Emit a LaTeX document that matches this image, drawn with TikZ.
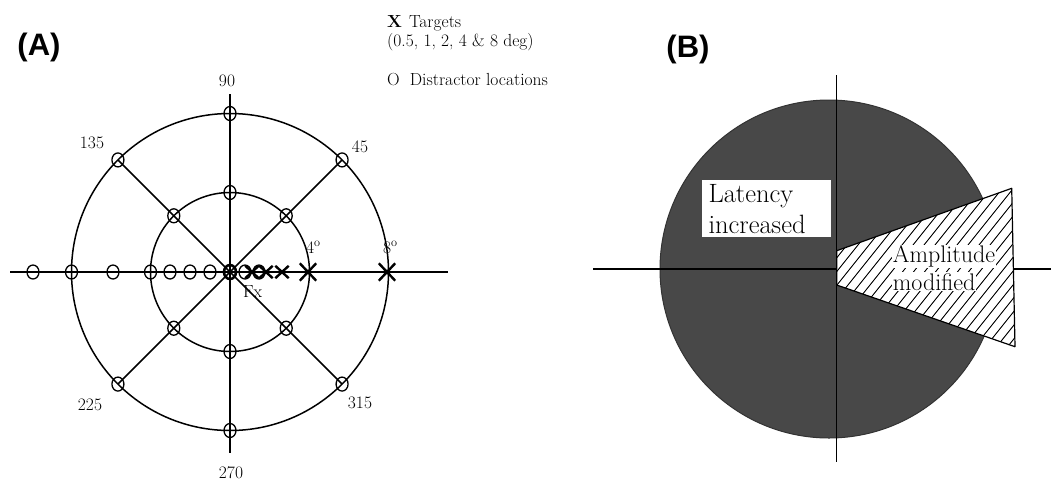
\documentclass[tikz,border=0pt]{standalone}
\usepackage{fontspec}
\newfontfamily\panelfont{Liberation Sans}
\definecolor{bdark}{RGB}{72,72,72}
\usetikzlibrary{shapes.geometric,shapes.misc}
\newcommand{\pxsize}[1]{\fontsize{#1}{#1}\selectfont}

\begin{document}
\begin{tikzpicture}[x=1pt,y=-1pt,
  lbl/.style={font=\pxsize{17.5},inner sep=0pt},
  ring/.style={draw,ellipse,minimum width=12pt,minimum height=14pt,inner sep=0pt,line width=1.3pt},
  tgt/.style={cross out,draw,minimum width=11pt,minimum height=10pt,inner sep=0pt,line width=2.4pt},
  bigtgt/.style={tgt,minimum width=14pt,minimum height=15pt},
  axis/.style={line width=1.7pt},
  hatch/.style={line width=0.9pt}]
  \useasboundingbox (0,0) rectangle (1051,483);
  % panel A
  \node[font=\panelfont\bfseries\pxsize{31}] (labA) at (39,47) {(A)};
  \coordinate (c) at (230,272);
  \draw[line width=1.5pt] (c) circle (158.5pt);
  \draw[line width=1.5pt] (c) circle (79.5pt);
  \coordinate (hl) at (10,272);  \coordinate (hr) at (448,272);
  \coordinate (vt) at (230,94);  \coordinate (vb) at (230,453);
  \draw[axis] (hl) -- (hr);
  \draw[axis] (vt) -- (vb);
  \foreach \a in {45,90,...,315} {
    \node[ring] (o\a) at ([shift={(-\a:158.5)}]c) {};
    \node[ring] (i\a) at ([shift={(-\a:79.5)}]c) {};
  }
  \draw[axis] (o135.center) -- (o315.center);
  \draw[axis] (o45.center) -- (o225.center);
  \foreach \x [count=\k] in {33,113,170,190,210,245,259} \node[ring] (d\k) at (\x,272) {};
  \node[ring,line width=2.6pt] (fx) at (c) {};
  \node[tgt] (t05) at (252,272) {};
  \node[tgt] (t1) at (266,272) {};
  \node[tgt] (t2) at (282,272) {};
  \node[bigtgt] (t4) at (308,272) {};
  \node[bigtgt] (t8) at (387,272) {};
  \node[lbl] (l90) at (227,81) {90};
  \node[lbl] (l135) at (92,143) {135};
  \node[lbl] (l45) at (360,147) {45};
  \node[lbl] (l225) at (90,405) {225};
  \node[lbl] (l315) at (360,403) {315};
  \node[lbl] (l270) at (231,473) {270};
  \node[lbl,anchor=base west] (deg4) at (306,253) {4\textsuperscript{o}};
  \node[lbl,anchor=base west] (deg8) at (383,253) {8\textsuperscript{o}};
  \node[lbl,anchor=base west] (fxl) at (243,297) {Fx};
  \node[lbl,anchor=base west] (leg1) at (387,27) {\textbf{X}\hspace{7pt}Targets};
  \node[lbl,anchor=base west] (leg2) at (387,46) {(0.5, 1, 2, 4 \& 8 deg)};
  \node[lbl,anchor=base west] (leg3) at (387,85) {O\hspace{10pt}Distractor locations};
  % panel B
  \node[font=\panelfont\bfseries\pxsize{31}] (labB) at (688,49) {(B)};
  \coordinate (bc) at (829,269);
  \filldraw[fill=bdark,draw=black!80,line width=1pt] (bc) circle (169pt);
  \coordinate (bl) at (593,269);  \coordinate (br) at (1051,269);
  \coordinate (bt) at (836.5,75); \coordinate (bb) at (836.5,462);
  \draw[line width=1.5pt] (bl) -- (br);
  \draw[line width=1.5pt] (bt) -- (bb);
  \coordinate (w1) at (836.7,250.7); \coordinate (w2) at (1011.7,188.3);
  \coordinate (w3) at (1015,346.7);  \coordinate (w4) at (836.7,285);
  \fill[white] (w1) -- (w2) -- (w3) -- (w4) -- cycle;
  \begin{scope}
    \clip (w1) -- (w2) -- (w3) -- (w4) -- cycle;
    \foreach \k in {0,...,29} \draw[hatch] (700+\k*11,360) -- ++(160,-200);
  \end{scope}
  \draw[line width=1.2pt,line join=round] (w1) -- (w2) -- (w3) -- (w4) -- cycle;
  \node[fill=white,minimum width=129pt,minimum height=57.4pt,inner sep=0pt,anchor=north west] (latbox) at (701.7,179.3) {};
  \node[font=\pxsize{26.5},inner sep=0pt,anchor=base west] (lat1) at (708.3,202.7) {Latency};
  \node[font=\pxsize{26.5},inner sep=0pt,anchor=base west] (lat2) at (708.3,233.3) {increased};
  \node[font=\pxsize{24},fill=white,inner sep=1pt,anchor=base west] (amp1) at (891.7,262.7) {Amplitude};
  \node[font=\pxsize{24},fill=white,inner sep=1pt,anchor=base west] (amp2) at (891.7,290) {modified};
\end{tikzpicture}
\end{document}
